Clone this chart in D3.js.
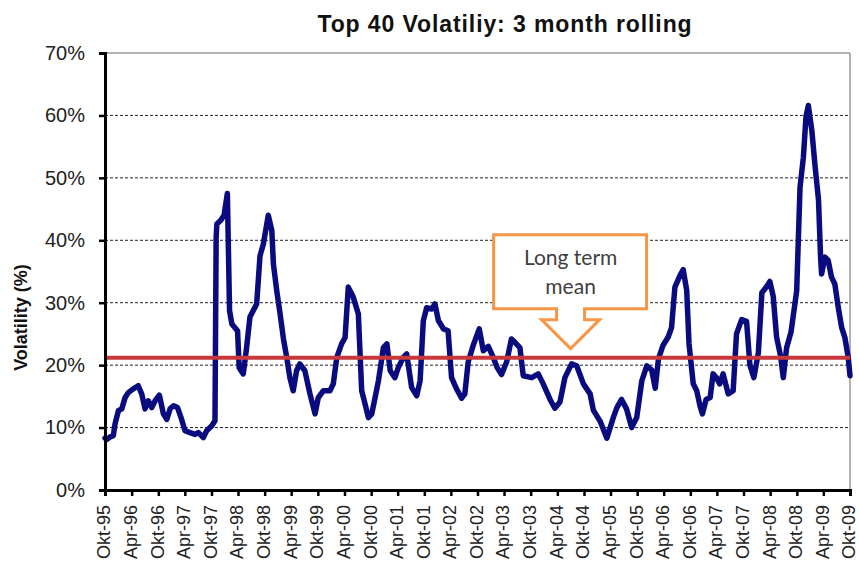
<!DOCTYPE html>
<html>
<head>
<meta charset="utf-8">
<script src="https://cdn.jsdelivr.net/npm/d3@7"></script>
<style>
  body { margin: 0; background: #fff; }
  svg { display: block; }
</style>
</head>
<body>
<svg id="chart" width="859" height="573"></svg>
<script>
// ---------------- data ----------------
const title = "Top 40 Volatiliy: 3 month rolling";
const yTitle = "Volatility (%)";
const calloutLines = ["Long term", "mean"];
const calloutDate = "2004-07-01";

const tickLabels = ["Okt-95","Apr-96","Okt-96","Apr-97","Okt-97","Apr-98","Okt-98","Apr-99","Okt-99","Apr-00","Okt-00","Apr-01","Okt-01","Apr-02","Okt-02","Apr-03","Okt-03","Apr-04","Okt-04","Apr-05","Okt-05","Apr-06","Okt-06","Apr-07","Okt-07","Apr-08","Okt-08","Apr-09","Okt-09"];
const yTicks = [0, 0.1, 0.2, 0.3, 0.4, 0.5, 0.6, 0.7];

const longTermMean = 0.212;

const dates = [
"1995-10-01","1995-10-12","1995-11-05","1995-11-27","1995-12-09","1996-01-01","1996-01-24","1996-02-16","1996-03-09","1996-04-12",
"1996-05-16","1996-06-09","1996-07-02","1996-07-24","1996-08-17","1996-09-09","1996-10-08","1996-11-05","1996-11-28","1996-12-21",
"1997-01-13","1997-02-10","1997-03-10","1997-04-02","1997-05-06","1997-06-10","1997-07-02","1997-08-06","1997-08-29","1997-10-03",
"1997-10-25","1997-11-02","1997-11-07","1997-12-04","1997-12-26","1998-01-18","1998-02-02","1998-02-18","1998-03-10","1998-03-29",
"1998-04-09","1998-05-07","1998-05-30","1998-06-22","1998-07-14","1998-08-07","1998-08-30","1998-09-22","1998-10-26","1998-11-19",
"1998-11-30","1998-12-23","1999-01-15","1999-02-07","1999-03-02","1999-03-23","1999-04-15","1999-05-08","1999-05-30","1999-07-04",
"1999-08-08","1999-09-12","1999-10-04","1999-11-08","1999-12-23","2000-01-15","2000-02-08","2000-03-12","2000-04-05","2000-04-27",
"2000-05-31","2000-07-05","2000-07-28","2000-08-20","2000-09-12","2000-10-05","2000-10-28","2000-11-20","2000-12-24","2001-01-17",
"2001-02-09","2001-03-13","2001-04-05","2001-05-09","2001-06-02","2001-07-06","2001-08-10","2001-09-02","2001-09-24","2001-10-17",
"2001-11-21","2001-12-13","2002-01-06","2002-02-10","2002-03-13","2002-04-06","2002-05-10","2002-06-14","2002-07-06","2002-07-29",
"2002-09-02","2002-10-13","2002-11-10","2002-12-14","2003-01-18","2003-02-13","2003-03-15","2003-04-19","2003-05-22","2003-06-21",
"2003-07-19","2003-08-11","2003-10-08","2003-11-22","2003-12-26","2004-02-11","2004-03-15","2004-04-19","2004-05-23","2004-07-08",
"2004-08-12","2004-09-27","2004-11-12","2004-12-04","2005-01-20","2005-03-07","2005-04-20","2005-05-15","2005-06-16","2005-07-20",
"2005-08-24","2005-09-28","2005-11-02","2005-12-06","2006-01-09","2006-02-02","2006-02-24","2006-03-28","2006-05-02","2006-05-25",
"2006-06-17","2006-07-21","2006-08-13","2006-09-06","2006-09-22","2006-10-21","2006-11-14","2006-12-06","2006-12-23","2007-01-17",
"2007-02-14","2007-03-06","2007-03-29","2007-04-21","2007-05-14","2007-06-18","2007-07-22","2007-08-14","2007-09-18","2007-10-22",
"2007-11-14","2007-12-11","2008-01-11","2008-02-04","2008-03-08","2008-03-30","2008-04-22","2008-05-15","2008-06-11","2008-06-30",
"2008-07-23","2008-08-22","2008-09-30","2008-10-23","2008-11-15","2008-12-03","2008-12-19","2009-01-12","2009-02-04","2009-02-27",
"2009-03-13","2009-03-20","2009-04-12","2009-05-04","2009-05-27","2009-06-19","2009-07-12","2009-08-05","2009-08-27","2009-09-19",
"2009-10-01"
];

const volatility = [
8.3, 8.1, 8.5, 8.7, 10.6, 12.7, 13.0, 14.8, 15.6, 16.2,
16.7, 15.4, 13.0, 14.3, 13.2, 14.3, 15.2, 12.2, 11.3, 13.0,
13.5, 13.2, 11.3, 9.5, 9.2, 8.9, 9.2, 8.4, 9.5, 10.3,
11.1, 40.5, 42.6, 43.2, 44.0, 47.5, 28.7, 26.6, 26.0, 25.5,
19.6, 18.6, 22.8, 27.7, 28.7, 29.8, 37.5, 39.4, 44.0, 41.6,
36.2, 31.9, 28.2, 24.2, 21.2, 18.0, 15.9, 19.1, 20.2, 19.1,
15.4, 12.2, 14.8, 15.9, 15.9, 17.0, 21.2, 23.4, 24.4, 32.5,
30.9, 28.2, 15.9, 13.8, 11.6, 12.2, 14.8, 17.5, 22.8, 23.4,
19.1, 18.0, 19.6, 21.2, 21.8, 16.4, 15.1, 17.5, 27.1, 29.2,
29.0, 29.8, 27.1, 25.8, 25.5, 18.0, 16.2, 14.7, 15.4, 20.5,
23.2, 25.8, 22.3, 23.0, 21.2, 19.6, 18.5, 20.5, 24.2, 23.5,
22.8, 18.3, 18.0, 18.6, 17.0, 14.5, 13.1, 14.1, 18.0, 20.2,
19.9, 17.0, 15.4, 12.8, 11.0, 8.3, 11.6, 13.2, 14.5, 13.0,
10.0, 11.6, 17.5, 19.9, 19.2, 16.3, 21.0, 23.2, 24.5, 26.0,
32.5, 34.3, 35.3, 32.0, 23.4, 17.0, 15.9, 13.5, 12.2, 14.5,
14.8, 18.6, 18.0, 17.0, 18.6, 15.4, 15.9, 25.0, 27.3, 27.0,
20.0, 18.0, 22.0, 31.6, 32.6, 33.4, 31.0, 24.5, 21.5, 18.0,
22.8, 25.3, 31.9, 48.5, 53.3, 59.8, 61.6, 57.6, 51.7, 46.4,
37.3, 34.6, 37.3, 36.8, 34.1, 33.0, 29.3, 26.0, 24.4, 21.2,
18.3
];

// ---------------- chart ----------------
const parse = d3.timeParse("%Y-%m-%d");
const series = dates.map((d, i) => ({ date: parse(d), value: volatility[i] / 100 }));

const margin = { left: 105, right: 9, top: 53, bottom: 83 };
const W = 859, H = 573;
const svg = d3.select("#chart");

const start = parse("1995-10-01"), end = parse("2009-10-01");
const tickDates = d3.timeMonth.range(start, d3.timeDay.offset(end, 1), 6);

const x = d3.scaleTime().domain([start, end]).range([margin.left, W - margin.right]);
const y = d3.scaleLinear().domain([0, 0.7]).range([H - margin.bottom, margin.top]);

// gridlines
svg.append("g").selectAll("line")
  .data(yTicks.filter(t => t > 0 && t < 0.7))
  .join("line")
  .attr("x1", x.range()[0]).attr("x2", x.range()[1])
  .attr("y1", d => y(d)).attr("y2", d => y(d))
  .attr("stroke", "#222").attr("stroke-width", 1)
  .attr("stroke-dasharray", "3,2");

// top & right border
svg.append("line")
  .attr("x1", x.range()[0]).attr("x2", x.range()[1])
  .attr("y1", y(0.7)).attr("y2", y(0.7))
  .attr("stroke", "#999").attr("stroke-width", 1.5);
svg.append("line")
  .attr("x1", x.range()[1]).attr("x2", x.range()[1])
  .attr("y1", y(0.7)).attr("y2", y(0))
  .attr("stroke", "#999").attr("stroke-width", 1.5);

// data line
const line = d3.line().x(d => x(d.date)).y(d => y(d.value));
svg.append("path")
  .datum(series)
  .attr("d", line)
  .attr("fill", "none")
  .attr("stroke", "#0b0b80")
  .attr("stroke-width", 5.5)
  .attr("stroke-linejoin", "round")
  .attr("stroke-linecap", "round");

// mean line
svg.append("line")
  .attr("x1", x.range()[0]).attr("x2", x.range()[1])
  .attr("y1", y(longTermMean)).attr("y2", y(longTermMean))
  .attr("stroke", "#c8373a").attr("stroke-width", 4);

// y axis
const yAxis = svg.append("g")
  .attr("transform", `translate(${margin.left},0)`)
  .call(d3.axisLeft(y).tickValues(yTicks).tickFormat(d3.format(".0%")).tickSize(6).tickPadding(14));
yAxis.select(".domain").attr("stroke", "#000").attr("stroke-width", 3);
yAxis.selectAll(".tick line").attr("stroke", "#000").attr("stroke-width", 2.5);
yAxis.selectAll(".tick text")
  .attr("font-family", "'Liberation Sans', Arial, sans-serif")
  .attr("font-size", 20).attr("fill", "#222");

// x axis
const xAxis = svg.append("g")
  .attr("transform", `translate(0,${y(0)})`)
  .call(d3.axisBottom(x).tickValues(tickDates).tickFormat((d, i) => tickLabels[i]).tickSize(6).tickPadding(0));
xAxis.select(".domain").attr("stroke", "#000").attr("stroke-width", 3);
xAxis.selectAll(".tick line").attr("stroke", "#000").attr("stroke-width", 2.5);
xAxis.selectAll(".tick text")
  .attr("font-family", "'Liberation Sans', Arial, sans-serif")
  .attr("font-size", 18).attr("fill", "#222")
  .attr("transform", "rotate(-90)")
  .attr("text-anchor", "end")
  .attr("x", -15).attr("y", 0).attr("dy", "0.27em");

// title
svg.append("text")
  .attr("x", 505).attr("y", 32)
  .attr("text-anchor", "middle")
  .attr("font-family", "'Liberation Sans', Arial, sans-serif")
  .attr("font-weight", "bold").attr("font-size", 23)
  .attr("letter-spacing", 0.9).attr("fill", "#111")
  .text(title);

// y title
svg.append("text")
  .attr("transform", `translate(27,${(y(0) + y(0.7)) / 2 + 46}) rotate(-90)`)
  .attr("text-anchor", "middle")
  .attr("font-family", "'Liberation Sans', Arial, sans-serif")
  .attr("font-weight", "bold").attr("font-size", 18).attr("fill", "#111")
  .text(yTitle);

// callout
const tipX = x(parse(calloutDate)), tipY = y(longTermMean) - 9;
const callout = svg.append("g").attr("transform", `translate(${tipX},${tipY})`);
const shape = [
  [-77, -114], [76, -114], [76, -40], [14, -40], [14, -29], [29, -29],
  [0, 0], [-29, -29], [-14, -29], [-14, -40], [-77, -40]
];
callout.append("path")
  .attr("d", d3.line()(shape) + "Z")
  .attr("fill", "#fff")
  .attr("stroke", "#f79646")
  .attr("stroke-width", 3)
  .attr("stroke-linejoin", "miter");
callout.selectAll("text.cl")
  .data(calloutLines)
  .join("text")
  .attr("class", "cl")
  .attr("x", 0)
  .attr("y", (d, i) => -84 + i * 29)
  .attr("text-anchor", "middle")
  .attr("font-family", "Lato, 'Open Sans', sans-serif")
  .attr("font-size", 21).attr("fill", "#404040")
  .text(d => d);
</script>
</body>
</html>
